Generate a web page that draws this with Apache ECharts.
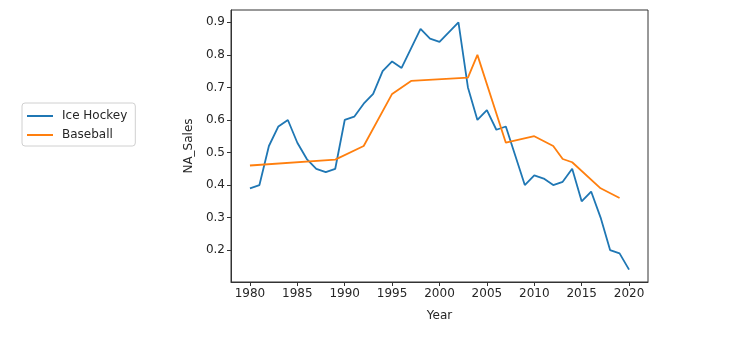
<!DOCTYPE html>
<html>
<head>
<meta charset="utf-8">
<script src="https://cdn.jsdelivr.net/npm/echarts@6/dist/echarts.min.js"></script>
<style>
  html, body { margin: 0; padding: 0; background: #fff; }
  #chart { width: 741px; height: 337px; }
</style>
</head>
<body>
<div id="chart"></div>
<script>
// Yearly North American sales for two sports titles
const hockeyYears = [1980, 1981, 1982, 1983, 1984, 1985, 1986, 1987, 1988, 1989,
                     1990, 1991, 1992, 1993, 1994, 1995, 1996, 1997, 1998, 1999,
                     2000, 2001, 2002, 2003, 2004, 2005, 2006, 2007, 2008, 2009,
                     2010, 2011, 2012, 2013, 2014, 2015, 2016, 2017, 2018, 2019, 2020];
const hockeySales = [0.39, 0.40, 0.52, 0.58, 0.60, 0.53, 0.48, 0.45, 0.44, 0.45,
                     0.60, 0.61, 0.65, 0.68, 0.75, 0.78, 0.76, 0.82, 0.88, 0.85,
                     0.84, 0.87, 0.90, 0.70, 0.60, 0.63, 0.57, 0.58, 0.49, 0.40,
                     0.43, 0.42, 0.40, 0.41, 0.45, 0.35, 0.38, 0.30, 0.20, 0.19, 0.14];

const baseballYears = [1980, 1989, 1992, 1995, 1997, 2003, 2004, 2007, 2010, 2012, 2013, 2014, 2017, 2019];
const baseballSales = [0.46, 0.478, 0.52, 0.68, 0.72, 0.73, 0.80, 0.53, 0.55, 0.52, 0.48, 0.47, 0.39, 0.36];

const yearTicks = [1980, 1985, 1990, 1995, 2000, 2005, 2010, 2015, 2020];
const salesTicks = [0.2, 0.3, 0.4, 0.5, 0.6, 0.7, 0.8, 0.9];

const pair = (xs, ys) => xs.map((x, i) => [x, ys[i]]);

const font = 'DejaVu Sans';
const ink = '#262626';

const chart = echarts.init(document.getElementById('chart'), null, { renderer: 'canvas' });
chart.setOption({
  animation: false,
  backgroundColor: '#fff',
  textStyle: { fontFamily: font, color: ink },
  grid: {
    left: 231, right: 93, top: 10, bottom: 55,
    show: true, borderColor: '#333', borderWidth: 1
  },
  legend: {
    orient: 'vertical',
    left: 22, top: 103,
    padding: [7, 8, 5, 5],
    itemGap: 7,
    itemWidth: 26,
    itemHeight: 2,
    icon: 'rect',
    borderColor: '#d0d0d0',
    borderWidth: 1,
    borderRadius: 3,
    textStyle: { fontFamily: font, fontSize: 12, color: ink, padding: [0, 0, 0, 4] },
    data: ['Ice Hockey', 'Baseball']
  },
  xAxis: {
    type: 'value',
    min: 1978, max: 2022,
    name: 'Year',
    nameLocation: 'middle',
    nameGap: 28,
    nameTextStyle: { fontFamily: font, fontSize: 12, color: ink },
    splitLine: { show: false },
    axisLine: { show: true, onZero: false, lineStyle: { color: '#333' } },
    axisTick: { show: true, length: 4, lineStyle: { color: '#333' }, customValues: yearTicks },
    axisLabel: { fontFamily: font, fontSize: 12, color: ink, margin: 6, customValues: yearTicks,
                 formatter: v => String(v) }
  },
  yAxis: {
    type: 'value',
    min: 0.102, max: 0.938,
    name: 'NA_Sales',
    nameLocation: 'middle',
    nameGap: 36,
    nameTextStyle: { fontFamily: font, fontSize: 12, color: ink },
    splitLine: { show: false },
    axisLine: { show: true, lineStyle: { color: '#333' } },
    axisTick: { show: true, length: 4, lineStyle: { color: '#333' }, customValues: salesTicks },
    axisLabel: { fontFamily: font, fontSize: 12, color: ink, margin: 6, customValues: salesTicks,
                 formatter: v => v.toFixed(1) }
  },
  series: [
    {
      name: 'Ice Hockey',
      type: 'line',
      data: pair(hockeyYears, hockeySales),
      showSymbol: false,
      color: '#1f77b4',
      lineStyle: { width: 1.8, color: '#1f77b4' },
      itemStyle: { color: '#1f77b4' }
    },
    {
      name: 'Baseball',
      type: 'line',
      data: pair(baseballYears, baseballSales),
      showSymbol: false,
      color: '#ff7f0e',
      lineStyle: { width: 1.8, color: '#ff7f0e' },
      itemStyle: { color: '#ff7f0e' }
    }
  ]
});
</script>
</body>
</html>
